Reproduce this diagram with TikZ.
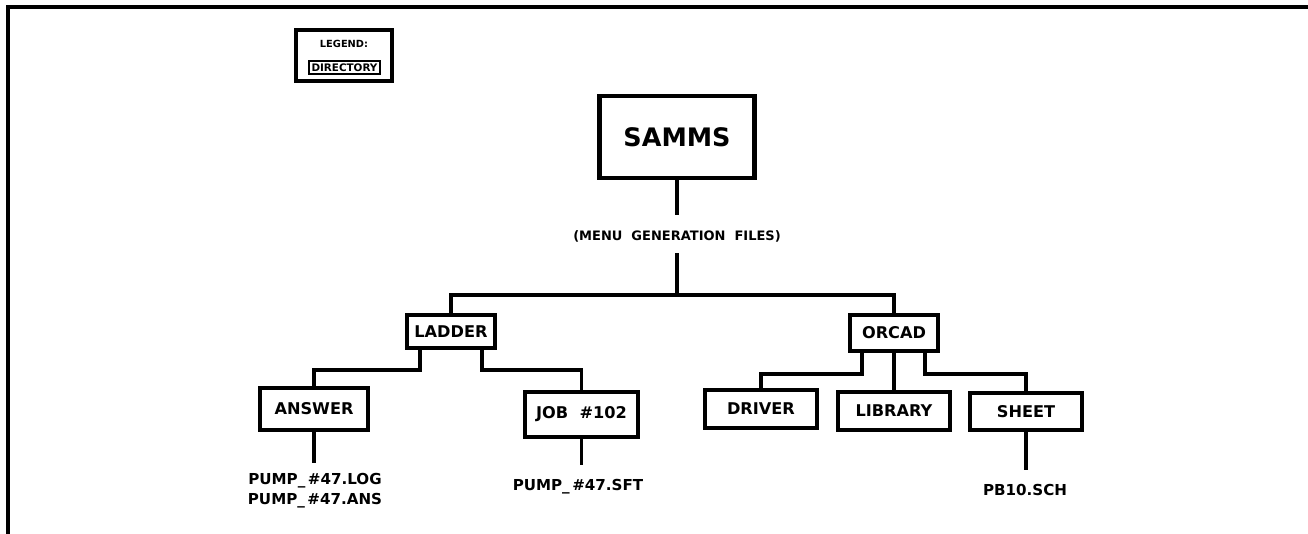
\documentclass[tikz,border=0pt]{standalone}
\usepackage{fontspec}
\setmainfont{DejaVu Sans}
\usetikzlibrary{calc}
\tikzset{
  dirbox/.style={draw, line width=2pt, rectangle, inner sep=0pt, font=\bfseries\fontsize{9.2}{10}\selectfont},
  lbl/.style={inner sep=0pt, font=\bfseries\fontsize{8.6}{10}\selectfont, align=center},
  conn/.style={line width=2pt},
}
\begin{document}
\begin{tikzpicture}[x=0.02cm, y=-0.02cm]
\useasboundingbox (0,0) rectangle (1308,534);
% frame
\draw[line width=1.8pt] (8,534) -- (8,7) -- (1308,7);
% legend
\node[draw, line width=2pt, minimum width=96*0.02cm, minimum height=51*0.02cm, inner sep=0pt] (legend) at (344,55.5) {};
\node[inner sep=0pt, font=\bfseries\fontsize{5.6}{6}\selectfont] (legtitle) at (344,44) {LEGEND:};
\node[draw, line width=1.6pt, minimum width=71*0.02cm, minimum height=13*0.02cm, inner sep=0pt, font=\bfseries\fontsize{5.9}{6}\selectfont] (legdir) at (344.5,67.5) {DIRECTORY};
% main
\node[draw, line width=2.4pt, minimum width=155*0.02cm, minimum height=82*0.02cm, inner sep=0pt, font=\bfseries\fontsize{14.5}{16}\selectfont] (samms) at (677,137) {SAMMS};
\node[inner sep=0pt, font=\bfseries\fontsize{7.4}{9}\selectfont] (menu) at (677,236) {(MENU\ \ GENERATION\ \ FILES)};
\coordinate (m1) at (677,215);
\coordinate (m2) at (677,253);
\coordinate (bus) at (677,295);
\node[dirbox, minimum width=88*0.02cm, minimum height=33*0.02cm] (ladder) at (451,331.5) {LADDER};
\node[dirbox, minimum width=88*0.02cm, minimum height=36*0.02cm] (orcad) at (894,333) {ORCAD};
\node[dirbox, minimum width=108*0.02cm, minimum height=42*0.02cm] (answer) at (314,409) {ANSWER};
\node[dirbox, minimum width=113*0.02cm, minimum height=45*0.02cm] (job) at (581.5,414.5) {JOB\ \ \#102};
\node[dirbox, minimum width=112*0.02cm, minimum height=38*0.02cm] (driver) at (761,409) {DRIVER};
\node[dirbox, minimum width=112*0.02cm, minimum height=38*0.02cm] (library) at (894,411) {LIBRARY};
\node[dirbox, minimum width=112*0.02cm, minimum height=37*0.02cm] (sheet) at (1026,411.5) {SHEET};
\node[lbl] (afiles) at (315,491) {PUMP\_\,\#47.LOG\\[1.2pt]PUMP\_\,\#47.ANS};
\node[lbl] (jfiles) at (578,487) {PUMP\_\,\#47.SFT};
\node[lbl] (sfiles) at (1025,490) {PB10.SCH};
\coordinate (aend) at (314,463);
\coordinate (jend) at (581.5,465);
\coordinate (send) at (1026,470);
% connectors
\draw[conn] (samms.south) -- (m1);
\draw[conn] (m2) -- (bus);
\draw[conn] (ladder.north) |- (bus) -| (orcad.north);
\draw[conn] ($(ladder.south)+(-31,0)$) -- ++(0,20) -| (answer.north);
\draw[conn] ($(ladder.south)+(31,0)$) -- ++(0,20) -| (job.north);
\draw[conn] ($(orcad.south)+(-32,0)$) -- ++(0,21) -| (driver.north);
\draw[conn] (orcad.south) -- (library.north);
\draw[conn] ($(orcad.south)+(31,0)$) -- ++(0,21) -| (sheet.north);
\draw[conn] (answer.south) -- (aend);
\draw[conn] (job.south) -- (jend);
\draw[conn] (sheet.south) -- (send);
\end{tikzpicture}
\end{document}
